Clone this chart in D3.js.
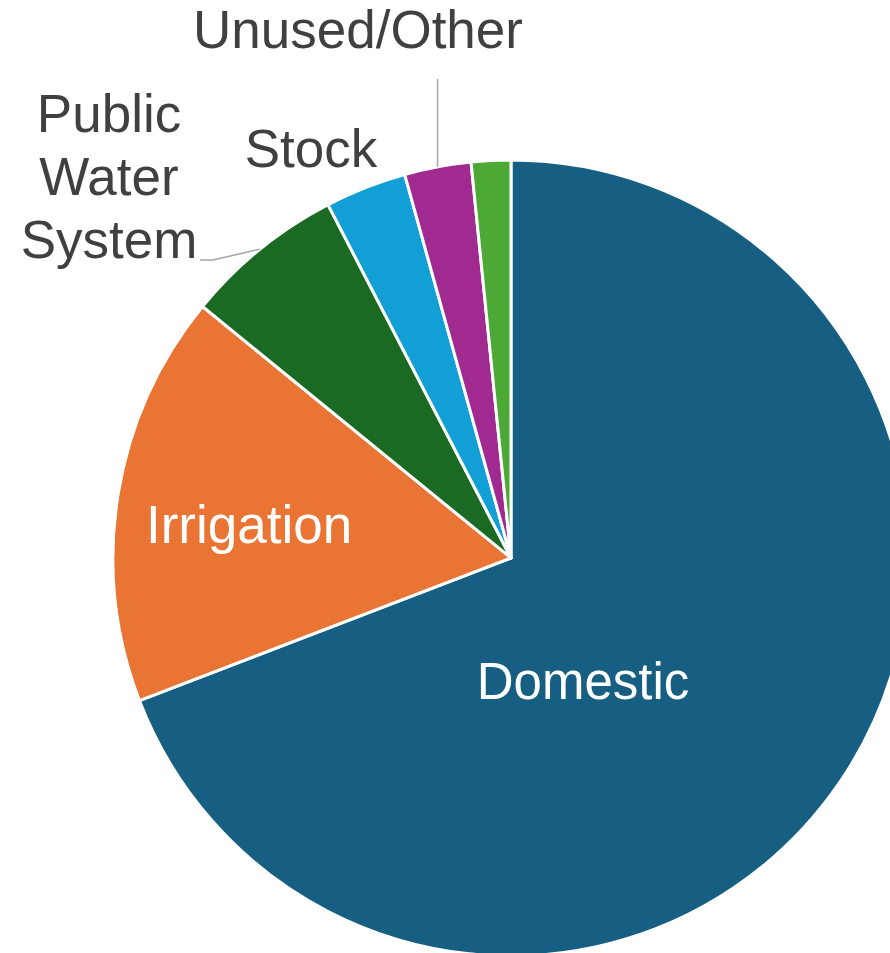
<!DOCTYPE html>
<html>
<head>
	<meta charset="utf-8" />
	<title>Water use</title>
	<script src="https://cdn.jsdelivr.net/npm/d3@7"></script>
	<style>
		body { margin: 0; background: #fff; }
		svg { display: block; font-family: "Liberation Sans", Arial, sans-serif; }
	</style>
</head>
<body>
	<div id="chart"></div>
	<script type="text/javascript">
		// slices, clockwise from 12 o'clock (percent of total)
		var categories = ["Domestic", "Irrigation", "Public Water System", "Stock", "Unused/Other", ""];
		var values = [69.1, 16.7, 6.5, 3.3, 2.7, 1.6];
		var colors = ["#175f82", "#e97433", "#1b6a23", "#129fd6", "#a02a90", "#4da935"];

		var width = 890, height = 953;
		var cx = 511, cy = 558, radius = 398;

		var svg = d3.select("#chart").append("svg")
			.attr("width", width)
			.attr("height", height);

		var g = svg.append("g").attr("transform", "translate(" + cx + "," + cy + ")");

		var pie = d3.pie().sort(null).value(function(d) { return d; });
		var arcs = pie(values);
		var arc = d3.arc().innerRadius(0).outerRadius(radius);
		var edge = d3.arc().innerRadius(radius).outerRadius(radius);

		g.selectAll("path.slice")
			.data(arcs)
			.enter().append("path")
			.attr("class", "slice")
			.attr("d", arc)
			.attr("fill", function(d, i) { return colors[i]; })
			.attr("stroke", "#fff")
			.attr("stroke-width", 3)
			.attr("stroke-linejoin", "round");

		// inside labels
		var inside = [
			{ i: 0, x: 72, y: 141, size: 51 },
			{ i: 1, x: -262, y: -15, size: 53 }
		];
		inside.forEach(function(l) {
			g.append("text")
				.attr("x", l.x).attr("y", l.y)
				.attr("text-anchor", "middle")
				.attr("fill", "#fff")
				.attr("font-size", l.size)
				.text(categories[l.i]);
		});

		// leader lines, from the middle of each slice's rim
		function rim(i) { return edge.centroid(arcs[i]); }
		var p2 = rim(2), p4 = rim(4);
		var line = d3.line();
		g.append("path")
			.attr("d", line([p2, [-298, -298], [-311, -298]]))
			.attr("fill", "none").attr("stroke", "#a6a6a6").attr("stroke-width", 1.5);
		g.append("path")
			.attr("d", line([p4, [p4[0], -479]]))
			.attr("fill", "none").attr("stroke", "#a6a6a6").attr("stroke-width", 1.5);

		// outside labels
		var outside = [
			{ lines: ["Public", "Water", "System"], x: -402, y: -426 },
			{ lines: ["Stock"], x: -200, y: -391 },
			{ lines: ["Unused/Other"], x: -153, y: -510 }
		];
		outside.forEach(function(l) {
			var t = g.append("text")
				.attr("x", l.x).attr("y", l.y)
				.attr("text-anchor", "middle")
				.attr("fill", "#404040")
				.attr("font-size", 53);
			l.lines.forEach(function(s, k) {
				t.append("tspan").attr("x", l.x).attr("dy", k ? 63 : 0).text(s);
			});
		});
	</script>
</body>
</html>
